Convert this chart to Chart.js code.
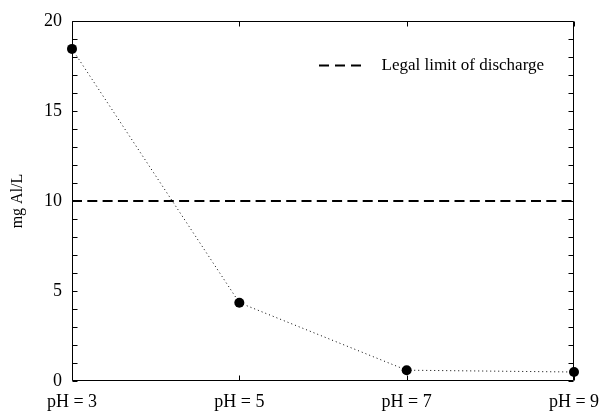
<!DOCTYPE html>
<html>
<head>
<meta charset="utf-8">
<script src="https://cdn.jsdelivr.net/npm/chart.js@4/dist/chart.umd.min.js"></script>
<style>
html,body{margin:0;padding:0;background:#fff;}
#wrap{width:603px;height:412px;position:relative;}
</style>
</head>
<body>
<div id="wrap"><canvas id="c"></canvas></div>
<script>
// ---- data ----
const categories = ['pH = 3', 'pH = 5', 'pH = 7', 'pH = 9'];
const aluminiumMgPerL = [18.45, 4.35, 0.6, 0.5];
const legalLimitMgPerL = [10, 10, 10, 10];
const legalLimitLabel = 'Legal limit of discharge';
const yAxisTitle = 'mg Al/L';
const yMin = 0, yMax = 20, yMinorStep = 1, yLabelStep = 5;

const serif = "'Liberation Serif', 'Times New Roman', serif";

// frame with inward ticks on all four sides
const frameTicks = {
  id: 'frameTicks',
  beforeDatasetsDraw(chart) {
    const {ctx, chartArea: a, scales: {x, y}} = chart;
    const L = Math.round(a.left) + 0.5, R = Math.round(a.right) - 0.5;
    const T = Math.round(a.top) + 0.5, B = Math.round(a.bottom) - 0.5;
    ctx.save();
    ctx.strokeStyle = '#000';
    ctx.lineWidth = 1;
    ctx.setLineDash([]);
    ctx.beginPath();
    ctx.rect(L, T, R - L, B - T);
    const tl = 5;
    y.ticks.forEach(t => {
      const py = Math.round(y.getPixelForValue(t.value)) + 0.5;
      ctx.moveTo(L, py); ctx.lineTo(L + tl, py);
      ctx.moveTo(R, py); ctx.lineTo(R - tl, py);
    });
    x.ticks.forEach((t, i) => {
      const px = Math.round(x.getPixelForValue(i)) + 0.5;
      ctx.moveTo(px, B); ctx.lineTo(px, B - tl);
      ctx.moveTo(px, T); ctx.lineTo(px, T + tl);
    });
    ctx.stroke();
    ctx.restore();
  }
};

// place the in-area legend box in the upper right of the plot
const legendPlace = {
  id: 'legendPlace',
  afterLayout(chart) {
    const lg = chart.legend, a = chart.chartArea;
    if (!lg) return;
    const w = lg.right - lg.left, h = lg.bottom - lg.top;
    lg.left = a.left + 237; lg.right = lg.left + w;
    lg.top = a.top + 26; lg.bottom = lg.top + h;
  }
};

new Chart(document.getElementById('c'), {
  type: 'line',
  data: {
    labels: categories,
    datasets: [
      {
        label: 'Al',
        data: aluminiumMgPerL,
        borderColor: '#000',
        backgroundColor: '#000',
        borderWidth: 1,
        borderDash: [1, 3],
        pointRadius: 5,
        pointBackgroundColor: '#000',
        pointBorderWidth: 0,
        fill: false,
        tension: 0,
        clip: false
      },
      {
        label: legalLimitLabel,
        data: legalLimitMgPerL,
        borderColor: '#000',
        backgroundColor: '#000',
        borderWidth: 2,
        borderDash: [10, 5.3],
        pointRadius: 0,
        fill: false,
        tension: 0,
        clip: false
      }
    ]
  },
  options: {
    responsive: true,
    maintainAspectRatio: false,
    animation: false,
    devicePixelRatio: 1,
    layout: { padding: { top: 21, right: 29, bottom: 0, left: 0 } },
    plugins: {
      tooltip: { enabled: false },
      legend: {
        position: 'chartArea',
        align: 'start',
        labels: {
          color: '#000',
          font: { family: serif, size: 17 },
          padding: 10,
          usePointStyle: true,
          pointStyleWidth: 54,
          filter: item => item.text === legalLimitLabel,
          generateLabels(chart) {
            const items = Chart.defaults.plugins.legend.labels.generateLabels(chart);
            return items.map(it => Object.assign(it, {
              pointStyle: 'line',
              lineDash: [10, 6, 10, 6, 10, 12],
              lineWidth: 2,
              strokeStyle: '#000'
            }));
          }
        }
      }
    },
    scales: {
      x: {
        type: 'category',
        offset: false,
        grid: { display: false, drawTicks: false },
        border: { display: false },
        ticks: {
          color: '#000',
          font: { family: serif, size: 18 },
          padding: 10,
          maxRotation: 0,
          autoSkip: false
        },
        afterFit(s) { s.height = 31; s.paddingLeft = 0; s.paddingRight = 0; }
      },
      y: {
        min: yMin,
        max: yMax,
        grid: { display: false, drawTicks: false },
        border: { display: false },
        ticks: {
          stepSize: yMinorStep,
          color: '#000',
          font: { family: serif, size: 18 },
          padding: 10,
          autoSkip: false,
          callback: v => (v % yLabelStep === 0 ? String(v) : '')
        },
        title: {
          display: true,
          text: yAxisTitle,
          color: '#000',
          font: { family: serif, size: 16 },
          padding: { top: 8, bottom: 0 }
        },
        afterFit(s) { s.width = 72; s.paddingTop = 0; s.paddingBottom = 0; }
      }
    }
  },
  plugins: [frameTicks, legendPlace]
});
</script>
</body>
</html>
